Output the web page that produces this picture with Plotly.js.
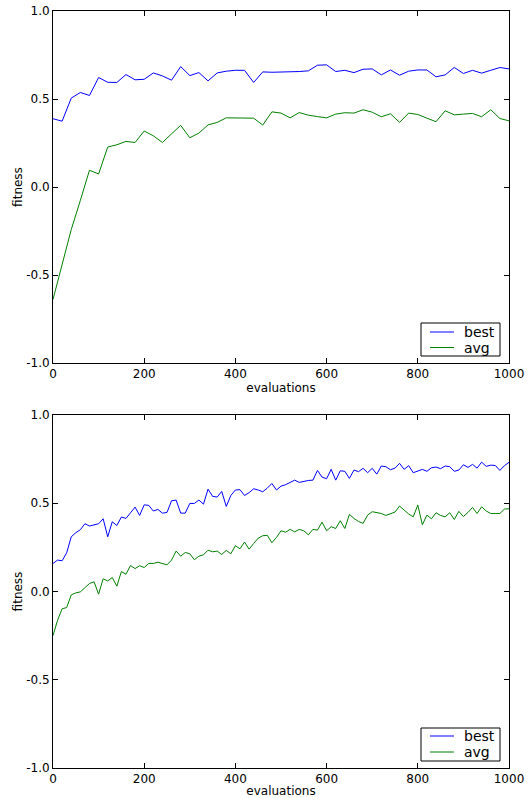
<!DOCTYPE html>
<html>
<head>
<meta charset="utf-8">
<script src="https://cdn.plot.ly/plotly-3.0.1.min.js"></script>
<style>html,body{margin:0;padding:0;background:#fff}#chart{width:531px;height:798px}</style>
</head>
<body>
<div id="chart"></div>
<script>
// Top panel: evaluations every 20
const evalsTop = [0,20,40,60,80,100,120,140,160,180,200,220,240,260,280,300,320,340,360,380,400,420,440,460,480,500,520,540,560,580,600,620,640,660,680,700,720,740,760,780,800,820,840,860,880,900,920,940,960,980,1000];
const bestTop = [0.388,0.374,0.505,0.537,0.52,0.622,0.595,0.594,0.639,0.609,0.612,0.648,0.631,0.607,0.684,0.633,0.65,0.603,0.648,0.658,0.663,0.663,0.594,0.654,0.652,0.652,0.654,0.656,0.66,0.692,0.694,0.656,0.663,0.65,0.669,0.671,0.637,0.665,0.635,0.658,0.665,0.665,0.626,0.637,0.679,0.645,0.663,0.647,0.663,0.679,0.671];
const avgTop = [-0.639,-0.435,-0.242,-0.076,0.095,0.074,0.227,0.24,0.259,0.253,0.318,0.291,0.253,0.302,0.35,0.28,0.306,0.353,0.367,0.393,0.393,0.389,0.391,0.352,0.427,0.42,0.393,0.423,0.408,0.40,0.393,0.414,0.422,0.42,0.439,0.425,0.399,0.416,0.367,0.42,0.412,0.391,0.371,0.433,0.41,0.414,0.418,0.399,0.439,0.389,0.376];

// Bottom panel: evaluations every 10
const evalsBottom = [0,10,20,30,40,50,60,70,80,90,100,110,120,130,140,150,160,170,180,190,200,210,220,230,240,250,260,270,280,290,300,310,320,330,340,350,360,370,380,390,400,410,420,430,440,450,460,470,480,490,500,510,520,530,540,550,560,570,580,590,600,610,620,630,640,650,660,670,680,690,700,710,720,730,740,750,760,770,780,790,800,810,820,830,840,850,860,870,880,890,900,910,920,930,940,950,960,970,980,990,1000];
const bestBottom = [0.159,0.178,0.174,0.219,0.31,0.333,0.35,0.384,0.371,0.378,0.384,0.412,0.31,0.395,0.374,0.422,0.414,0.446,0.478,0.431,0.491,0.488,0.456,0.465,0.444,0.448,0.514,0.518,0.444,0.444,0.499,0.499,0.518,0.495,0.58,0.539,0.535,0.567,0.482,0.544,0.575,0.577,0.544,0.56,0.582,0.575,0.565,0.586,0.612,0.575,0.597,0.605,0.618,0.631,0.618,0.624,0.629,0.631,0.686,0.648,0.639,0.692,0.631,0.684,0.681,0.641,0.688,0.679,0.698,0.673,0.698,0.665,0.711,0.707,0.69,0.699,0.726,0.692,0.713,0.673,0.684,0.692,0.681,0.701,0.705,0.696,0.711,0.707,0.681,0.688,0.718,0.703,0.72,0.699,0.733,0.709,0.716,0.714,0.686,0.713,0.732];
const avgBottom = [-0.25,-0.163,-0.098,-0.091,-0.019,-0.008,-0.002,0.021,0.045,0.055,-0.015,0.072,0.06,0.079,0.03,0.113,0.098,0.147,0.13,0.146,0.136,0.159,0.159,0.166,0.157,0.151,0.178,0.229,0.2,0.221,0.214,0.18,0.2,0.208,0.234,0.225,0.229,0.21,0.233,0.214,0.259,0.242,0.28,0.24,0.272,0.302,0.316,0.318,0.276,0.306,0.344,0.336,0.352,0.338,0.352,0.344,0.321,0.352,0.348,0.393,0.344,0.367,0.357,0.401,0.357,0.437,0.414,0.397,0.386,0.433,0.452,0.446,0.442,0.431,0.442,0.45,0.484,0.459,0.439,0.423,0.49,0.378,0.433,0.412,0.446,0.431,0.423,0.446,0.408,0.454,0.425,0.448,0.476,0.442,0.48,0.456,0.442,0.442,0.442,0.467,0.469];

const seriesNames = ['best', 'avg'];
const xTicks = [0,200,400,600,800,1000];
const yTicks = [-1.0,-0.5,0.0,0.5,1.0];
const yTickText = ['-1.0','-0.5','0.0','0.5','1.0'];

const FONT = 'DejaVu Sans, sans-serif';
const BLUE = '#0000ff', GREEN = '#008000';
const COLORS = [BLUE, GREEN];

const traces = [
  {x: evalsTop, y: bestTop, name: seriesNames[0], type: 'scatter', mode: 'lines', line: {color: BLUE, width: 1}, xaxis: 'x', yaxis: 'y'},
  {x: evalsTop, y: avgTop, name: seriesNames[1], type: 'scatter', mode: 'lines', line: {color: GREEN, width: 1}, xaxis: 'x', yaxis: 'y'},
  {x: evalsBottom, y: bestBottom, name: seriesNames[0], type: 'scatter', mode: 'lines', line: {color: BLUE, width: 1}, xaxis: 'x2', yaxis: 'y2'},
  {x: evalsBottom, y: avgBottom, name: seriesNames[1], type: 'scatter', mode: 'lines', line: {color: GREEN, width: 1}, xaxis: 'x2', yaxis: 'y2'}
];

function xa(domain, anchor) {
  return {
    domain: domain, anchor: anchor, range: [0, 1000],
    tickvals: xTicks, ticktext: xTicks.map(String),
    ticks: 'inside', ticklen: 5, tickwidth: 1, tickcolor: '#000',
    showline: true, linecolor: '#000', linewidth: 1, mirror: 'ticks',
    showgrid: false, zeroline: false,
    tickfont: {family: FONT, size: 12, color: '#000'},
    title: {text: 'evaluations', font: {family: FONT, size: 12, color: '#000'}, standoff: 1}
  };
}
function ya(domain, anchor) {
  return {
    domain: domain, anchor: anchor, range: [-1, 1],
    tickvals: yTicks, ticktext: yTickText,
    ticks: 'inside', ticklen: 5, tickwidth: 1, tickcolor: '#000',
    showline: true, linecolor: '#000', linewidth: 1, mirror: 'ticks',
    showgrid: false, zeroline: false,
    tickfont: {family: FONT, size: 12, color: '#000'},
    title: {text: 'fitness', font: {family: FONT, size: 12, color: '#000'}, standoff: 0}
  };
}

const W = 531, H = 798;
const px = v => v / W, py = v => (H - v) / H;
const xd = [px(53), px(509)];
const topD = [py(363), py(11)];
const botD = [py(768), py(415)];

// Legend boxes (matplotlib style), drawn in paper coordinates
const shapes = [], annotations = [];
function legendBox(top, bottom, row1, row2) {
  shapes.push({type: 'rect', xref: 'paper', yref: 'paper', x0: px(421), x1: px(500), y0: py(bottom), y1: py(top),
    line: {color: '#000', width: 1}, fillcolor: '#fff', layer: 'above'});
  [row1, row2].forEach((ry, i) => {
    shapes.push({type: 'line', xref: 'paper', yref: 'paper', x0: px(430), x1: px(454), y0: py(ry), y1: py(ry),
      line: {color: COLORS[i], width: 1}, layer: 'above'});
    annotations.push({xref: 'paper', yref: 'paper', x: px(462), y: py(ry), xanchor: 'left', yanchor: 'middle',
      text: seriesNames[i], showarrow: false, font: {family: FONT, size: 14, color: '#000'}});
  });
}
legendBox(323, 356, 332, 347.5);
legendBox(728, 761, 736, 752);

const layout = {
  width: W, height: H,
  margin: {l: 0, r: 0, t: 0, b: 0},
  paper_bgcolor: '#fff', plot_bgcolor: '#fff',
  showlegend: false,
  xaxis: xa(xd, 'y'), yaxis: ya(topD, 'x'),
  xaxis2: xa(xd, 'y2'), yaxis2: ya(botD, 'x2'),
  shapes: shapes, annotations: annotations
};

Plotly.newPlot('chart', traces, layout, {displayModeBar: false, staticPlot: true});
</script>
</body>
</html>
